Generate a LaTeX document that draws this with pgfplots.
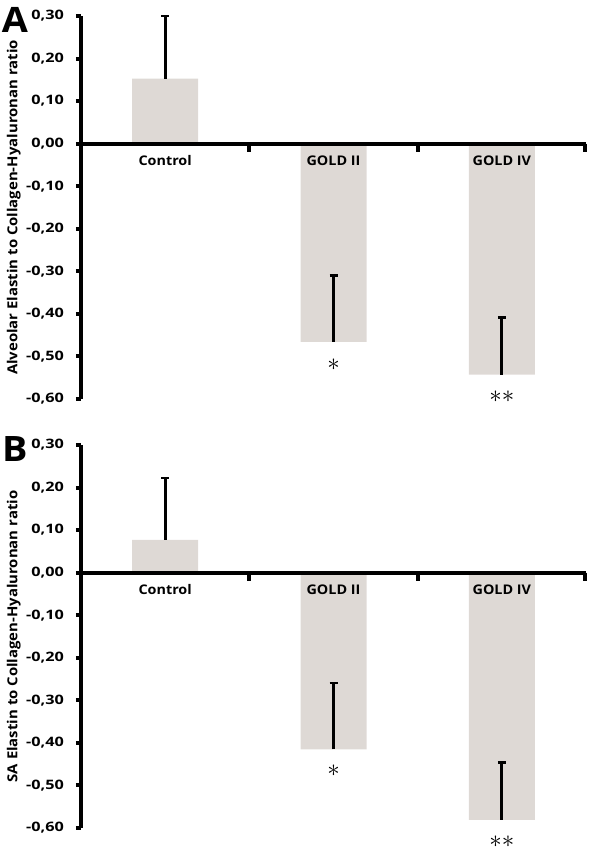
\documentclass[border=0pt]{standalone}
\usepackage{pgfplots}
\pgfplotsset{compat=1.18}
\usepackage{fontspec}
\setmainfont{Open Sans}[FakeStretch=1.08]
\newfontfamily\tickfam{Open Sans}[FakeStretch=1.25]
\definecolor{barcol}{RGB}{222,217,213}
\newcommand{\tickfont}{\tickfam\bfseries\fontsize{13}{14}\selectfont}
\newcommand{\catfont}{\bfseries\fontsize{13.3}{14}\selectfont}
\newcommand{\labfont}{\bfseries\fontsize{13.8}{14}\selectfont}
\newcommand{\astfont}{\fontsize{24.88}{25}\selectfont}
\pgfplotsset{
  panel/.style={
    scale only axis, width=505pt, height=383pt,
    anchor=south west,
    xmin=0, xmax=3, ymin=-0.6, ymax=0.3,
    axis x line=none, axis y line*=left,
    y axis line style={line width=4pt, black},
    ytick={-0.6,-0.5,-0.4,-0.3,-0.2,-0.1,0,0.1,0.2,0.3},
    yticklabels={{-0,60},{-0,50},{-0,40},{-0,30},{-0,20},{-0,10},{0,00},{0,10},{0,20},{0,30}},
    tick align=outside, major tick length=5pt,
    ytick style={line width=4pt, black},
    yticklabel style={font=\tickfont, inner sep=0pt, anchor=east, xshift=-12pt},
    ylabel style={font=\labfont, at={(axis description cs:-0.133,0.5)}, anchor=center},
    clip=false,
  },
  bars/.style={
    ybar, bar width=66pt, bar shift=0pt, fill=barcol, draw=none,
    error bars/.cd, y dir=plus, y explicit,
    error bar style={draw=black, line width=3pt},
    error mark options={draw=black, line width=2.5pt, mark size=4pt, rotate=90},
  },
}
\begin{document}
\begin{tikzpicture}
% Panel A
\begin{axis}[panel, at={(81pt,453pt)}, ylabel={Alveolar Elastin to Collagen-Hyaluronan ratio}]
\addplot[bars] coordinates {(0.5,0.153) +- (0,0.147) (1.5,-0.466) +- (0,0.156) (2.5,-0.543) +- (0,0.135)};
\draw[line width=4pt, black] (axis cs:0,0) -- (axis cs:3,0);
\draw[line width=4pt, black] (axis cs:1,0) -- (axis cs:1,-0.019);
\draw[line width=4pt, black] (axis cs:2,0) -- (axis cs:2,-0.019);
\draw[line width=4pt, black] (axis cs:2.994,0) -- (axis cs:2.994,-0.019);
\node[anchor=base, font=\catfont, yshift=-22pt] at (axis cs:0.5,0) {Control};
\node[anchor=base, font=\catfont, yshift=-22pt] at (axis cs:1.5,0) {GOLD II};
\node[anchor=base, font=\catfont, yshift=-22pt] at (axis cs:2.5,0) {GOLD IV};
\node[anchor=center, inner sep=0pt] at (axis cs:1.5,-0.519) {\astfont$\ast$};
\node[anchor=center, inner sep=0pt] at (axis cs:2.5,-0.594) {\astfont${\ast}{\ast}$};
\node[anchor=base, inner sep=0pt, font=\bfseries\fontsize{35}{35}\selectfont] at (axis description cs:-0.131,0.958) {A};
\end{axis}
% Panel B
\begin{axis}[panel, at={(81pt,24pt)}, ylabel={SA Elastin to Collagen-Hyaluronan ratio}]
\addplot[bars] coordinates {(0.5,0.077) +- (0,0.146) (1.5,-0.415) +- (0,0.156) (2.5,-0.581) +- (0,0.135)};
\draw[line width=4pt, black] (axis cs:0,0) -- (axis cs:3,0);
\draw[line width=4pt, black] (axis cs:1,0) -- (axis cs:1,-0.019);
\draw[line width=4pt, black] (axis cs:2,0) -- (axis cs:2,-0.019);
\draw[line width=4pt, black] (axis cs:2.994,0) -- (axis cs:2.994,-0.019);
\node[anchor=base, font=\catfont, yshift=-22pt] at (axis cs:0.5,0) {Control};
\node[anchor=base, font=\catfont, yshift=-22pt] at (axis cs:1.5,0) {GOLD II};
\node[anchor=base, font=\catfont, yshift=-22pt] at (axis cs:2.5,0) {GOLD IV};
\node[anchor=center, inner sep=0pt] at (axis cs:1.5,-0.466) {\astfont$\ast$};
\node[anchor=center, inner sep=0pt] at (axis cs:2.5,-0.633) {\astfont${\ast}{\ast}$};
\node[anchor=base, inner sep=0pt, font=\bfseries\fontsize{35}{35}\selectfont] at (axis description cs:-0.131,0.958) {B};
\end{axis}
\pgfresetboundingbox
\path[use as bounding box] (0pt,0pt) rectangle (600pt,852pt);
\end{tikzpicture}
\end{document}
